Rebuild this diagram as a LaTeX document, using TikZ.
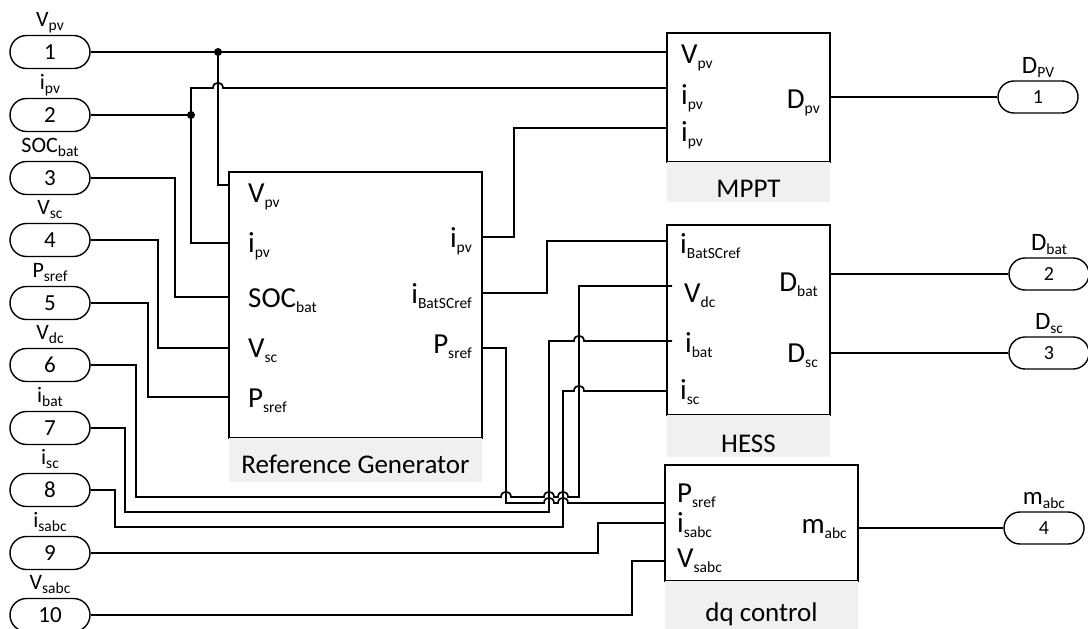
\documentclass[tikz,border=0pt]{standalone}
\usepackage{fontspec}
\setmainfont{Carlito}
\definecolor{titlebg}{HTML}{F0F0F0}
\newcommand\Sb[1]{\raisebox{-0.18em}{\fontsize{15.5}{15.5}\selectfont #1}}
\newcommand\lab[2]{#1\Sb{#2}}
\tikzset{
  wire/.style={line width=1.7pt, line join=miter},
  blk/.style={draw, line width=1.7pt, inner sep=0pt},
  ttlbg/.style={fill=titlebg, inner sep=0pt},
  ttl/.style={inner sep=0pt, anchor=base, font=\fontsize{27}{27}\selectfont},
  bl/.style={inner sep=0pt, font=\fontsize{29}{29}\selectfont},
  port/.style={draw, line width=1.4pt, rounded corners=16.5pt, minimum width=80pt, minimum height=33pt, inner sep=0pt, font=\fontsize{23}{23}\selectfont},
  rport/.style={port, minimum height=32pt, rounded corners=16pt, font=\fontsize{20}{20}\selectfont},
  plbl/.style={inner sep=0pt, anchor=base, font=\fontsize{22}{22}\selectfont},
  rplbl/.style={inner sep=0pt, anchor=base, font=\fontsize{25}{25}\selectfont},
  hop/.style args={#1,#2}{insert path={-- (#1-5,#2) .. controls (#1-5,#2-7) and (#1+5,#2-7) .. (#1+5,#2)}},
  dot/.style={fill, circle, inner sep=0pt, minimum size=8pt}
}
\begin{document}
\begin{tikzpicture}[x=1pt,y=-1pt]
\useasboundingbox (0,0) rectangle (1088,629);
\clip (0,0) rectangle (1088,629);

% ---------- blocks ----------
\node[blk, minimum width=253pt, minimum height=266pt] (rg) at (355.5,305) {};
\node[ttlbg, minimum width=253pt, minimum height=44pt] (rgbg) at (355.5,460) {};
\node[ttl] (rgt) at (355.5,473) {Reference Generator};
\node[blk, minimum width=163pt, minimum height=129pt] (mppt) at (748.5,97.5) {};
\node[ttlbg, minimum width=163pt, minimum height=40pt] (mpptbg) at (748.5,182) {};
\node[ttl] (mpptt) at (748.5,197) {MPPT};
\node[blk, minimum width=163pt, minimum height=190pt] (hess) at (748.5,320) {};
\node[ttlbg, minimum width=163pt, minimum height=42pt] (hessbg) at (748.5,436) {};
\node[ttl] (hesst) at (748.5,452) {HESS};
\node[blk, minimum width=193pt, minimum height=116pt] (dq) at (761.5,523) {};
\node[ttlbg, minimum width=193pt, minimum height=60pt] (dqbg) at (761.5,611) {};
\node[ttl] (dqt) at (761.5,621) {dq control};

% ---------- block labels ----------
\node[bl, anchor=base west] at (248,202) {\lab{V}{pv}};
\node[bl, anchor=base west] at (248,252) {\lab{i}{pv}};
\node[bl, anchor=base west] at (248,307) {\lab{SOC}{bat}};
\node[bl, anchor=base west] at (248,357) {\lab{V}{sc}};
\node[bl, anchor=base west] at (248,407) {\lab{P}{sref}};
\node[bl, anchor=base east] at (472,247) {\lab{i}{pv}};
\node[bl, anchor=base east] at (472,303) {\lab{i}{BatSCref}};
\node[bl, anchor=base east] at (472,353) {\lab{P}{sref}};

\node[bl, anchor=base west] at (681,63) {\lab{V}{pv}};
\node[bl, anchor=base west] at (681,104) {\lab{i}{pv}};
\node[bl, anchor=base west] at (681,141) {\lab{i}{pv}};
\node[bl, anchor=base east] at (820,108) {\lab{D}{pv}};

\node[bl, anchor=base west] at (680,253) {\lab{i}{BatSCref}};
\node[bl, anchor=base west] at (684,302) {\lab{V}{dc}};
\node[bl, anchor=base west] at (685,352) {\lab{i}{bat}};
\node[bl, anchor=base west] at (680,399) {\lab{i}{sc}};
\node[bl, anchor=base east] at (818,291) {\lab{D}{bat}};
\node[bl, anchor=base east] at (818,362) {\lab{D}{sc}};

\node[bl, anchor=base west] at (677,502) {\lab{P}{sref}};
\node[bl, anchor=base west] at (677,532) {\lab{i}{sabc}};
\node[bl, anchor=base west] at (677,567) {\lab{V}{sabc}};
\node[bl, anchor=base east] at (847,533) {\lab{m}{abc}};

% ---------- pins ----------
\coordinate (rg-vpv) at (229,185);
\coordinate (rg-ipv) at (229,243);
\coordinate (rg-soc) at (229,297);
\coordinate (rg-vsc) at (229,348);
\coordinate (rg-psref) at (229,397);
\coordinate (rg-oipv) at (482,237);
\coordinate (rg-oibat) at (482,293);
\coordinate (rg-opsref) at (482,348);
\coordinate (mppt-vpv) at (667,52);
\coordinate (mppt-ipv1) at (667,88);
\coordinate (mppt-ipv2) at (667,128);
\coordinate (mppt-d) at (830,97);
\coordinate (hess-iref) at (667,241);
\coordinate (hess-vdc) at (672,286);
\coordinate (hess-ibat) at (672,341);
\coordinate (hess-isc) at (667,391);
\coordinate (hess-dbat) at (830,274);
\coordinate (hess-dsc) at (830,353);
\coordinate (dq-psref) at (665,503);
\coordinate (dq-isabc) at (665,523);
\coordinate (dq-vsabc) at (665,561);
\coordinate (dq-m) at (858,528);

% ---------- input ports ----------
\foreach \n/\y/\t in {1/52/{\lab{V}{pv}},2/115/{\lab{i}{pv}},3/178/{\lab{SOC}{bat}},4/240/{\lab{V}{sc}},5/303/{\lab{P}{sref}},6/365/{\lab{V}{dc}},7/428/{\lab{i}{bat}},8/490/{\lab{i}{sc}},9/553/{\lab{i}{sabc}},10/615/{\lab{V}{sabc}}}{
  \node[port] (p\n) at (50,\y) {\n};
  \node[plbl] (pl\n) at ([yshift=8.5pt]p\n.north) {\t};
}

% ---------- output ports ----------
\node[rport] (o1) at (1038,97) {1};
\node[rplbl] at ([yshift=7pt]o1.north) {\lab{D}{PV}};
\node[rport] (o2) at (1049,274) {2};
\node[rplbl] at ([yshift=7pt]o2.north) {\lab{D}{bat}};
\node[rport] (o3) at (1049,353) {3};
\node[rplbl] at ([yshift=7pt]o3.north) {\lab{D}{sc}};
\node[rport] (o4) at (1044,528) {4};
\node[rplbl] at ([yshift=7pt]o4.north) {\lab{m}{abc}};

% ---------- junctions ----------
\coordinate (j1) at (218,52);
\coordinate (j2) at (191,115);

% ---------- wires ----------
\draw[wire] (p1.east) -- (mppt-vpv);
\draw[wire] (j1) |- (rg-vpv);
\draw[wire] (p2.east) -- (j2);
\draw[wire] (j2) -- (191,88) [hop={218,88}] -- (mppt-ipv1);
\draw[wire] (j2) |- (rg-ipv);
\draw[wire] (p3.east) -- (175,178) |- (rg-soc);
\draw[wire] (p4.east) -- (158,240) |- (rg-vsc);
\draw[wire] (p5.east) -- (148,303) |- (rg-psref);
\draw[wire] (p6.east) -- (136,365) -- (136,497) [hop={506,497}] [hop={549,497}] [hop={563,497}] -- (579,497) |- (hess-vdc);
\draw[wire] (p7.east) -- (125,428) -- (125,512) -- (549,512) -- (549,341) [hop={579,341}] -- (hess-ibat);
\draw[wire] (p8.east) -- (115,490) -- (115,527) -- (563,527) -- (563,391) [hop={579,391}] -- (hess-isc);
\draw[wire] (p9.east) -- (598,553) |- (dq-isabc);
\draw[wire] (p10.east) -- (632,615) |- (dq-vsabc);

\draw[wire] (rg-oipv) -- (514,237) |- (mppt-ipv2);
\draw[wire] (rg-oibat) -- (547,293) |- (hess-iref);
\draw[wire] (rg-opsref) -- (506,348) -- (506,503) [hop={549,503}] [hop={563,503}] -- (dq-psref);

\draw[wire] (mppt-d) -- (o1.west);
\draw[wire] (hess-dbat) -- (o2.west);
\draw[wire] (hess-dsc) -- (o3.west);
\draw[wire] (dq-m) -- (o4.west);

\node[dot] at (j1) {};
\node[dot] at (j2) {};
\end{tikzpicture}
\end{document}
